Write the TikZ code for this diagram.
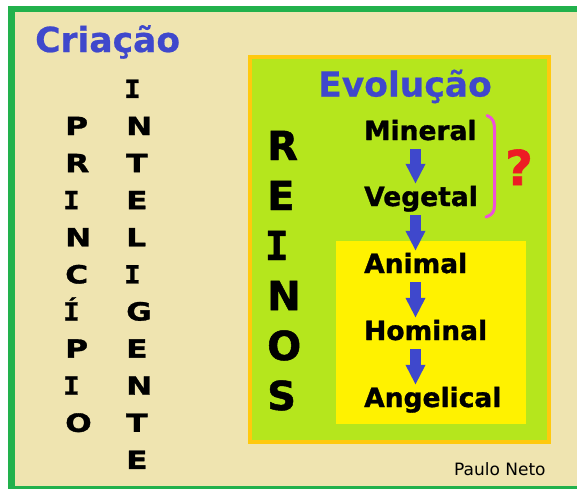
\documentclass[tikz,border=0pt]{standalone}
\usepackage{fontspec}
\setmainfont{DejaVu Sans}
\newfontfamily\heavy{DejaVu Sans Bold}[FakeBold=1.2]
\newfontfamily\titlefont{DejaVu Sans Bold}[FakeBold=0.6]
\newfontfamily\wideheavy{DejaVu Sans Bold}[FakeBold=1.2, FakeStretch=1.25]
\newfontfamily\monoheavy{DejaVu Sans Mono Bold}[FakeBold=1.2]
\newfontfamily\widemonoheavy{DejaVu Sans Mono Bold}[FakeBold=1.2, FakeStretch=1.1]
\newcommand\slabI{{\kern-2pt\widemonoheavy I}}
\newcommand\slabIacute{{\kern-2pt\widemonoheavy Í}}
\newcommand\bigslabI{{\kern-2.5pt\monoheavy I}}
\usetikzlibrary{arrows.meta}
\definecolor{tanbg}{HTML}{EFE4B0}
\definecolor{framegreen}{HTML}{22B14C}
\definecolor{lime}{HTML}{B5E61D}
\definecolor{boxorange}{HTML}{FFC90E}
\definecolor{boxyellow}{HTML}{FFF200}
\definecolor{titleblue}{HTML}{3F48CC}
\definecolor{qred}{HTML}{ED1C24}
\definecolor{brpink}{HTML}{EE50DA}
\tikzset{
  title/.style={font=\fontsize{34.5}{38}\titlefont, text=titleblue, inner sep=0pt, anchor=base west},
  reino/.style={font=\fontsize{26.5}{30}\heavy, text=black, inner sep=0pt, anchor=base west, text height=22pt, text depth=9pt},
  vletter/.style={font=\fontsize{25}{30}\wideheavy, text=black, inner sep=0pt, anchor=base west},
  bigletter/.style={font=\fontsize{40}{46}\heavy, text=black, inner sep=0pt, anchor=base west},
  barrow/.style={draw=titleblue, line width=10.5pt, -{Triangle[width=18.5pt,length=20pt]}},
}
\begin{document}
\begin{tikzpicture}[x=1pt,y=-1pt]
\useasboundingbox (0,0) rectangle (577,488);
% outer frame
\fill[white] (0,0) rectangle (577,488);
\draw[framegreen, line width=6.5pt, fill=tanbg] (11.5,9) rectangle (600,489.5);
% evolution box
\draw[boxorange, line width=4pt, fill=lime] (250,56.5) rectangle (548.5,441.5);
\fill[boxyellow] (336,241) rectangle (526,424);
% titles
\node[title] (criacao) at (35,52) {Criação};
\node[title] (evolucao) at (318,96.5) {Evolução};
% left columns
\foreach \l [count=\i] in {P,R,\slabI,N,C,\slabIacute,P,\slabI,O}
  \node[vletter, name=pr\i] at (65,{135+37.1*(\i-1)}) {\l};
\foreach \l [count=\i] in {\slabI,N,T,E,L,\slabI,G,E,N,T,E}
  \node[vletter, name=in\i] at (126,{97.9+37.1*(\i-1)}) {\l};
% REINOS
\foreach \l [count=\i] in {R,E,\bigslabI,N,O,S}
  \node[bigletter, name=re\i] at (267,{160+50*(\i-1)}) {\l};
% kingdoms
\node[reino] (mineral) at (364,140) {Mineral};
\node[reino] (vegetal) at (364,206) {Vegetal};
\node[reino] (animal) at (364,273) {Animal};
\node[reino] (hominal) at (364,340) {Hominal};
\node[reino] (angelical) at (364,407) {Angelical};
\coordinate (ax) at (415.5,0);
\draw[barrow] (mineral.south -| ax) -- (vegetal.north -| ax);
\draw[barrow] (vegetal.south -| ax) -- (animal.north -| ax);
\draw[barrow] (animal.south -| ax) -- (hominal.north -| ax);
\draw[barrow] (hominal.south -| ax) -- (angelical.north -| ax);
% bracket and question mark
\draw[brpink, line width=3pt, line cap=round]
  (487,115.5) .. controls (493,118) and (494.5,122) .. (494.5,130)
  -- (494.5,205) .. controls (494.5,212) and (492,215) .. (486,217);
\node[font=\fontsize{48}{52}\heavy, text=qred, inner sep=0pt, anchor=base] (q) at (519,185) {?};
% author
\node[font=\fontsize{17}{19}\selectfont, inner sep=0pt, anchor=base west] (autor) at (454,475) {Paulo Neto};
\end{tikzpicture}
\end{document}
